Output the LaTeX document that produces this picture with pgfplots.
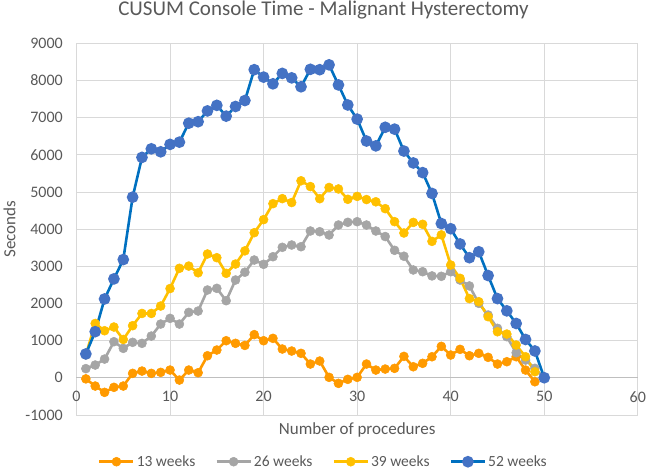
\documentclass[border=0pt]{standalone}
\usepackage{fontspec}
\setmainfont{Carlito}
\usepackage{pgfplots}
\pgfplotsset{compat=1.18}
\definecolor{cOrange}{HTML}{FF9A00}
\definecolor{cGray}{HTML}{A5A5A5}
\definecolor{cYellow}{HTML}{FFC000}
\definecolor{cBlue}{HTML}{4472C4}
\definecolor{cBlueLine}{HTML}{0070C0}
\definecolor{gridgray}{HTML}{D9D9D9}
\definecolor{axisgray}{HTML}{BFBFBF}
\definecolor{textgray}{HTML}{595959}
\begin{document}
\begin{tikzpicture}
\begin{axis}[
  scale only axis, width=561.3pt, height=371.6pt,
  xmin=0, xmax=60, ymin=-1000, ymax=9000,
  xtick={0,10,...,60}, ytick={-1000,0,...,9000},
  grid=major, grid style={draw=gridgray, line width=0.8pt},
  axis line style={draw=none},
  tick style={draw=none}, major tick length=0pt,
  extra y ticks={0}, extra y tick labels={},
  extra y tick style={grid style={draw=axisgray, line width=0.9pt}},
  /pgf/number format/1000 sep={},
  /pgf/number format/assume math mode=true,
  ticklabel style={font=\fontsize{16}{19}\selectfont, text=textgray},
  yticklabel style={xshift=-10.2pt},
  xticklabel style={anchor=center, yshift=18.2pt},
  title={CUSUM Console Time - Malignant Hysterectomy},
  title style={at={(axis description cs:0.44,1.0735)}, anchor=base, yshift=-6pt, font=\fontsize{21}{25}\selectfont, text=textgray},
  xlabel={Number of procedures},
  xlabel style={at={(axis description cs:0.5,-0.0404)}, anchor=center, font=\fontsize{17}{20}\selectfont, text=textgray},
  ylabel={Seconds},
  ylabel style={at={(axis description cs:-0.1194,0.5)}, anchor=center, font=\fontsize{17}{20}\selectfont, text=textgray},
  legend columns=4,
  legend style={at={(axis description cs:0.44,-0.126)}, anchor=center, draw=none, fill=none,
    font=\fontsize{15.5}{18}\selectfont, text=textgray,
    /tikz/every even column/.append style={column sep=18pt}},
  legend image code/.code={\draw[mark repeat=2,mark phase=2,#1] plot coordinates {(0pt,0pt) (17pt,0pt) (34pt,0pt)};},
  every axis plot/.append style={line width=2.6pt, mark=*, mark size=4.5pt, mark options={solid, line width=0.5pt}},
]
\addplot[color=cOrange] coordinates {
(1,-30) (2,-223) (3,-393) (4,-258) (5,-223) (6,118) (7,180) (8,118) (9,145) (10,207)
(11,-62) (12,207) (13,135) (14,592) (15,746) (16,996) (17,926) (18,870) (19,1160) (20,996)
(21,1060) (22,773) (23,719) (24,657) (25,369) (26,450) (27,11) (28,-151) (29,-43) (30,11)
(31,369) (32,207) (33,234) (34,253) (35,575) (36,296) (37,388) (38,565) (39,845) (40,611)
(41,764) (42,592) (43,657) (44,549) (45,369) (46,431) (47,565) (48,207) (49,-108)
};
\addlegendentry{13 weeks}
\addplot[color=cGray] coordinates {
(1,245) (2,342) (3,503) (4,969) (5,791) (6,953) (7,926) (8,1122) (9,1445) (10,1598)
(11,1445) (12,1760) (13,1795) (14,2361) (15,2406) (16,2073) (17,2630) (18,2840) (19,3168) (20,3052)
(21,3257) (22,3510) (23,3572) (24,3526) (25,3949) (26,3930) (27,3841) (28,4110) (29,4183) (30,4199)
(31,4110) (32,3949) (33,3800) (34,3430) (35,3270) (36,2900) (37,2853) (38,2740) (39,2730) (40,2853)
(41,2630) (42,2470) (43,2003) (44,1688) (45,1330) (46,1104) (47,673) (48,476) (49,253) (50,0)
};
\addlegendentry{26 weeks}
\addplot[color=cYellow] coordinates {
(1,620) (2,1460) (3,1265) (4,1365) (5,1030) (6,1400) (7,1730) (8,1730) (9,1930) (10,2400)
(11,2945) (12,3005) (13,2825) (14,3330) (15,3230) (16,2810) (17,3060) (18,3415) (19,3903) (20,4255)
(21,4685) (22,4820) (23,4715) (24,5300) (25,5145) (26,4818) (27,5120) (28,5080) (29,4802) (30,4880)
(31,4795) (32,4735) (33,4550) (34,4200) (35,3895) (36,4180) (37,4130) (38,3670) (39,3845) (40,3034)
(41,2676) (42,2130) (43,2046) (44,1642) (45,1238) (46,1176) (47,880) (48,565) (49,161)
};
\addlegendentry{39 weeks}
\addplot[color=cBlueLine, mark options={fill=cBlue, draw=cBlue}] coordinates {
(1,640) (2,1240) (3,2120) (4,2660) (5,3180) (6,4860) (7,5930) (8,6160) (9,6080) (10,6280)
(11,6340) (12,6850) (13,6890) (14,7180) (15,7330) (16,7040) (17,7300) (18,7460) (19,8290) (20,8090)
(21,7910) (22,8190) (23,8070) (24,7830) (25,8300) (26,8290) (27,8420) (28,7880) (29,7340) (30,6960)
(31,6370) (32,6240) (33,6740) (34,6690) (35,6100) (36,5780) (37,5520) (38,4960) (39,4150) (40,4010)
(41,3600) (42,3230) (43,3390) (44,2750) (45,2130) (46,1800) (47,1460) (48,1030) (49,720) (50,0)
};
\addlegendentry{52 weeks}
\coordinate (bl) at (rel axis cs:0,0);
\end{axis}
\pgfresetboundingbox
\path[use as bounding box] (bl) ++(-76.5pt,-54.1pt) rectangle ++(647pt,469pt);
\end{tikzpicture}
\end{document}
